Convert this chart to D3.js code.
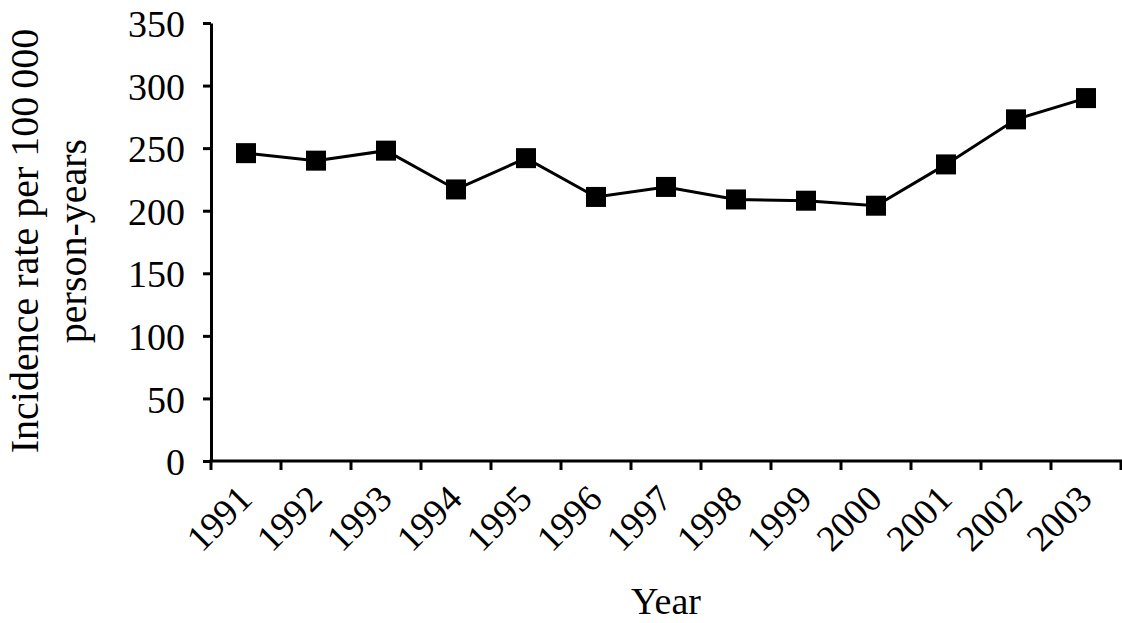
<!DOCTYPE html>
<html>
<head>
<meta charset="utf-8">
<script src="https://cdn.jsdelivr.net/npm/d3@7"></script>
<style>
  html, body { margin: 0; padding: 0; background: #fff; }
  svg { display: block; }
  text { font-family: "Liberation Serif", "Times New Roman", serif; fill: #000; }
</style>
</head>
<body>
<svg id="chart" width="1122" height="623"></svg>
<script>
const years = ["1991","1992","1993","1994","1995","1996","1997","1998","1999","2000","2001","2002","2003"];
const rates = [246, 240, 248, 217, 242, 211, 219, 209, 208, 204, 237, 273, 290];
const yTicks = [0, 50, 100, 150, 200, 250, 300, 350];
const yTitleLines = ["Incidence rate per 100\u2009000", "person-years"];
const xTitle = "Year";

const svg = d3.select("#chart");
const mLeft = 211, mRight = 1121, mTop = 23, mBottom = 461;

const x = d3.scaleBand().domain(years).range([mLeft, mRight]).padding(0);
const y = d3.scaleLinear().domain([0, 350]).range([mBottom, mTop]);

// Y axis
const yAxis = d3.axisLeft(y).tickValues(yTicks).tickSize(8).tickSizeOuter(0).tickPadding(18);
const gy = svg.append("g").attr("transform", `translate(${mLeft},0)`).call(yAxis);
gy.select(".domain").attr("stroke", "#000").attr("stroke-width", 3);
gy.selectAll(".tick line").attr("stroke", "#000").attr("stroke-width", 3);
gy.selectAll(".tick text").attr("font-size", 38).attr("dy", "0.36em")
  .style("font-family", '"Liberation Serif", serif').attr("fill", "#000");

// X axis (manual ticks at band boundaries)
const gx = svg.append("g");
gx.append("line").attr("x1", x.range()[0] - 1.5).attr("x2", x.range()[1] + 1.5)
  .attr("y1", y(0)).attr("y2", y(0)).attr("stroke", "#000").attr("stroke-width", 3);
const bounds = years.map(d => x(d)).concat([x.range()[1]]);
gx.selectAll("line.tk").data(bounds).enter().append("line").attr("class", "tk")
  .attr("x1", d => d).attr("x2", d => d)
  .attr("y1", y(0)).attr("y2", y(0) + 9)
  .attr("stroke", "#000").attr("stroke-width", 3);
gx.selectAll("text.lbl").data(years).enter().append("text").attr("class", "lbl")
  .attr("transform", d => `translate(${x(d) + x.bandwidth() / 2 + 8},${y(0) + 40}) rotate(-45)`)
  .attr("text-anchor", "end")
  .attr("font-size", 37)
  .text(d => d);

// Line
const line = d3.line().x((d, i) => x(years[i]) + x.bandwidth() / 2).y(d => y(d));
svg.append("path").datum(rates).attr("d", line)
  .attr("fill", "none").attr("stroke", "#000").attr("stroke-width", 3);

// Markers
const ms = 20;
svg.selectAll("rect.m").data(rates).enter().append("rect").attr("class", "m")
  .attr("x", (d, i) => x(years[i]) + x.bandwidth() / 2 - ms / 2)
  .attr("y", d => y(d) - ms / 2)
  .attr("width", ms).attr("height", ms)
  .attr("fill", "#000");

// Y title
const yt = svg.append("text").attr("transform", `translate(0,241) rotate(-90)`)
  .attr("text-anchor", "middle").attr("font-size", 40);
yt.selectAll("tspan").data(yTitleLines).enter().append("tspan")
  .attr("x", 0).attr("y", (d, i) => 38 + i * 48)
  .text(d => d);

// X title
svg.append("text").attr("x", (mLeft + mRight) / 2).attr("y", 614)
  .attr("text-anchor", "middle").attr("font-size", 38).text(xTitle);
</script>
</body>
</html>
